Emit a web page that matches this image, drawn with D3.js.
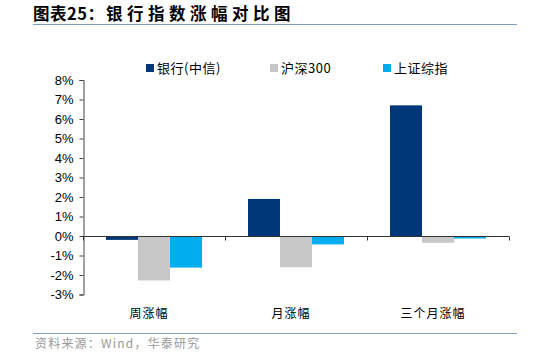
<!DOCTYPE html>
<html><head><meta charset="utf-8">
<script src="https://cdn.jsdelivr.net/npm/d3@7"></script>
<style>body{margin:0;background:#fff}svg{display:block}</style>
</head><body>
<script>
const categories = ["周涨幅", "月涨幅", "三个月涨幅"];
const seriesNames = ["银行(中信)", "沪深300", "上证综指"];
const bank = [-0.20, 1.90, 6.70];
const hs300 = [-2.28, -1.60, -0.35];
const sse = [-1.62, -0.43, -0.13];
const yTicks = [-3, -2, -1, 0, 1, 2, 3, 4, 5, 6, 7, 8];
const colors = ["#003778", "#c8c8c8", "#00aeef"];

const W = 534, H = 361;
const svg = d3.select("body").append("svg").attr("width", W).attr("height", H);
const sans = "Liberation Sans, Arial, sans-serif";
const cjk = "'Noto Sans CJK SC', sans-serif";

// title
const title = svg.append("text").attr("y", 20).attr("font-family", cjk)
  .attr("font-weight", "bold").attr("font-size", 16.5).attr("fill", "#000");
title.append("tspan").attr("x", 33).attr("letter-spacing", 0.5).text("图表25：");
title.append("tspan").attr("x", 106).attr("letter-spacing", 4.5).text("银行指数涨幅对比图");
svg.append("line").attr("x1", 33).attr("x2", 517).attr("y1", 24.5).attr("y2", 24.5)
  .attr("stroke", "#7f9cc0").attr("stroke-width", 1);

const x0 = 83, x1 = 509;
const x = d3.scaleBand().domain(categories).range([x0, x1]).paddingInner(0).paddingOuter(0);
const y = d3.scaleLinear().domain([-3, 8]).range([294.5, 80]);
const xs = d3.scaleBand().domain(seriesNames).range([0, 96]);
const groupPad = (x.bandwidth() - 96) / 2;

const data = [bank, hs300, sse];
data.forEach((vals, si) => {
  svg.append("g").selectAll("rect").data(vals).join("rect")
    .attr("x", (d, i) => x(categories[i]) + groupPad + xs(seriesNames[si]))
    .attr("width", xs.bandwidth())
    .attr("y", d => y(Math.max(0, d)))
    .attr("height", d => Math.abs(y(d) - y(0)))
    .attr("fill", colors[si]);
});

// y axis
const yAxis = d3.axisLeft(y).tickValues(yTicks).tickFormat(d => d + "%").tickSize(4).tickPadding(6);
const gy = svg.append("g").attr("transform", `translate(${x0 + 0.5},0)`).call(yAxis);
gy.select(".domain").attr("stroke", "#444");
gy.selectAll(".tick line").attr("stroke", "#444");
gy.selectAll("text").attr("font-family", sans).attr("font-size", 13).attr("fill", "#000");

// x axis at zero
const gx = svg.append("g").attr("transform", `translate(0,${Math.round(y(0)) + 0.5})`);
gx.append("line").attr("x1", x0).attr("x2", x1).attr("stroke", "#333").attr("stroke-width", 1);
const bounds = categories.map(c => x(c) + x.bandwidth()).concat([x0]);
gx.selectAll("line.t").data(bounds).join("line").attr("class", "t")
  .attr("x1", d => d + 0.5).attr("x2", d => d + 0.5).attr("y1", 0).attr("y2", 4).attr("stroke", "#333");

// category labels
svg.append("g").selectAll("text").data(categories).join("text")
  .attr("x", d => x(d) + x.bandwidth() / 2 - 5).attr("y", 318)
  .attr("text-anchor", "middle").attr("font-family", cjk).attr("font-size", 12)
  .attr("letter-spacing", 1).attr("fill", "#000")
  .text(d => d);

// legend
const legX = [146, 270, 383];
const lg = svg.append("g").selectAll("g").data(seriesNames).join("g")
  .attr("transform", (d, i) => `translate(${legX[i]},64)`);
lg.append("rect").attr("width", 8).attr("height", 8).attr("fill", (d, i) => colors[i]);
lg.append("text").attr("x", 11).attr("y", 8.5).attr("font-family", cjk).attr("font-size", 13)
  .attr("letter-spacing", 0.5).attr("fill", "#000").text(d => d);

// bottom rule and source
svg.append("line").attr("x1", 33).attr("x2", 517).attr("y1", 333.5).attr("y2", 333.5)
  .attr("stroke", "#7f9cc0").attr("stroke-width", 1);
svg.append("text").attr("x", 35).attr("y", 348).attr("font-family", cjk).attr("font-size", 12)
  .attr("letter-spacing", 1.2).attr("fill", "#999").text("资料来源：Wind，华泰研究");
</script>
</body></html>
